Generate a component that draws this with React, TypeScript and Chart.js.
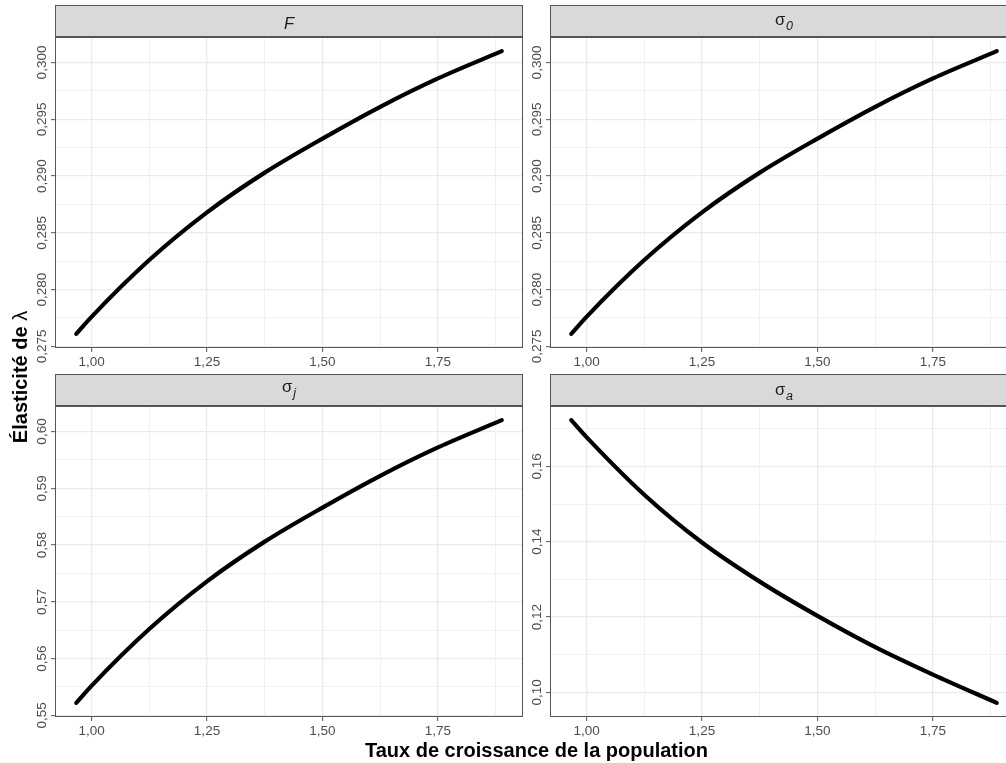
import React, { useEffect, useRef } from "react";
import { Chart, registerables } from "chart.js";

Chart.register(...registerables);

const FONT_FAMILY = "'Liberation Sans', Arial, Helvetica, sans-serif";
Chart.defaults.font.family = FONT_FAMILY;

// Population growth rate (λ) at which the elasticities were evaluated
const growthRates = [0.967, 1.0, 1.125, 1.25, 1.375, 1.5, 1.625, 1.75, 1.888];

// Elasticity of λ to each vital rate
const elasticityF = [0.2761, 0.2776, 0.2826, 0.2868, 0.2903, 0.2933, 0.2961, 0.2986, 0.301];
const elasticitySigma0 = [0.2761, 0.2776, 0.2826, 0.2868, 0.2903, 0.2933, 0.2961, 0.2986, 0.301];
const elasticitySigmaJ = [0.5522, 0.5552, 0.5652, 0.5736, 0.5806, 0.5866, 0.5922, 0.5972, 0.602];
const elasticitySigmaA = [0.1723, 0.1678, 0.1525, 0.1398, 0.1294, 0.1203, 0.112, 0.1047, 0.0972];

// Labelled tick values
const xTickValues = [1.0, 1.25, 1.5, 1.75];
const yTicksF = [0.275, 0.28, 0.285, 0.29, 0.295, 0.3];
const yTicksSigma0 = [0.275, 0.28, 0.285, 0.29, 0.295, 0.3];
const yTicksSigmaJ = [0.55, 0.56, 0.57, 0.58, 0.59, 0.6];
const yTicksSigmaA = [0.1, 0.12, 0.14, 0.16];

const STRIP_H = 32;
const PLOT_W = 468;
const PLOT_H = 311;
const Y_AXIS_W = 55;
const X_AXIS_H = 26;
const CANVAS_W = Y_AXIS_W + PLOT_W + 1;
const CANVAS_H = STRIP_H + PLOT_H + X_AXIS_H;

const GRID_COLOR = "#ebebeb";
const FRAME_COLOR = "#555555";
const TICK_TEXT = "#4d4d4d";

function expandedRange(values: number[]): [number, number] {
  const lo = Math.min(...values);
  const hi = Math.max(...values);
  const pad = (hi - lo) * 0.05;
  return [lo - pad, hi + pad];
}

// Major ticks plus the minor lines halfway between them
function gridValues(majors: number[], min: number, max: number): number[] {
  const half = (majors[1] - majors[0]) / 2;
  const kMin = Math.ceil((min - majors[0]) / half - 1e-9);
  const kMax = Math.floor((max - majors[0]) / half + 1e-9);
  const out: number[] = [];
  for (let k = kMin; k <= kMax; k++) {
    out.push(Math.round((majors[0] + k * half) * 1e7) / 1e7);
  }
  return out;
}

function isMajor(majors: number[], v: number) {
  return majors.some((m) => Math.abs(m - v) < 1e-9);
}

function formatComma(v: number, decimals: number) {
  return v.toFixed(decimals).replace(".", ",");
}

type StripLabel = { symbol: string; italic: boolean; sub?: string; baseline: number };

type PanelProps = {
  label: StripLabel;
  values: number[];
  yTicks: number[];
  yDecimals: number;
  left: number;
  top: number;
};

function Panel({ label, values, yTicks, yDecimals, left, top }: PanelProps) {
  const ref = useRef<HTMLCanvasElement>(null);

  useEffect(() => {
    const canvas = ref.current;
    if (!canvas) return;
    const [xMin, xMax] = expandedRange(growthRates);
    const [yMin, yMax] = expandedRange(values);
    const xGrid = gridValues(xTickValues, xMin, xMax);
    const yGrid = gridValues(yTicks, yMin, yMax);

    const decor = {
      id: "panelDecor",
      afterDatasetsDraw(chart: any) {
        const { ctx, chartArea: a } = chart;
        const yScale = chart.scales.y;
        const w = a.right - a.left;
        const h = a.bottom - a.top;
        ctx.save();

        // panel frame
        ctx.strokeStyle = FRAME_COLOR;
        ctx.lineWidth = 1;
        ctx.strokeRect(a.left + 0.5, a.top + 0.5, w - 1, h - 1);

        // strip
        ctx.fillStyle = "#d9d9d9";
        ctx.fillRect(a.left, 0, w, STRIP_H);
        ctx.strokeRect(a.left + 0.5, 0.5, w - 1, STRIP_H - 1);

        const mainFont = `${label.italic ? "italic " : ""}16.5px ${FONT_FAMILY}`;
        const subFont = `italic 12.5px ${FONT_FAMILY}`;
        ctx.font = mainFont;
        const mw = ctx.measureText(label.symbol).width;
        ctx.font = subFont;
        const sw = label.sub ? ctx.measureText(label.sub).width + 1 : 0;
        const x0 = (a.left + a.right) / 2 - (mw + sw) / 2;
        ctx.fillStyle = "#1a1a1a";
        ctx.textAlign = "left";
        ctx.textBaseline = "alphabetic";
        ctx.font = mainFont;
        ctx.fillText(label.symbol, x0, label.baseline);
        if (label.sub) {
          ctx.font = subFont;
          ctx.fillText(label.sub, x0 + mw + 1, label.baseline + 4.5);
        }

        // vertical y tick labels
        ctx.fillStyle = TICK_TEXT;
        ctx.font = `13.5px ${FONT_FAMILY}`;
        ctx.textAlign = "center";
        ctx.textBaseline = "alphabetic";
        for (const v of yTicks) {
          const y = yScale.getPixelForValue(v);
          ctx.save();
          ctx.translate(a.left - 9, y);
          ctx.rotate(-Math.PI / 2);
          ctx.fillText(formatComma(v, yDecimals), 0, 0);
          ctx.restore();
        }
        ctx.restore();
      },
    };

    const gridFor = (majors: number[]) => ({
      color: GRID_COLOR,
      lineWidth: (c: any) => (isMajor(majors, c.tick.value) ? 1.3 : 0.7),
      drawTicks: true,
      tickLength: 4,
      tickWidth: 1,
      tickColor: (c: any) => (isMajor(majors, c.tick.value) ? FRAME_COLOR : "rgba(0,0,0,0)"),
    });

    const chart = new Chart(canvas, {
      type: "line",
      data: {
        datasets: [
          {
            data: growthRates.map((x, i) => ({ x, y: values[i] })),
            borderColor: "#000000",
            borderWidth: 4.2,
            pointRadius: 0,
            cubicInterpolationMode: "monotone",
            borderCapStyle: "round",
            borderJoinStyle: "round",
            fill: false,
          },
        ],
      },
      options: {
        responsive: false,
        animation: false,
        events: [],
        layout: { padding: { top: STRIP_H, left: 0, right: 1, bottom: 0 } },
        plugins: {
          legend: { display: false },
          tooltip: { enabled: false },
          title: { display: false },
        },
        scales: {
          x: {
            type: "linear",
            min: xMin,
            max: xMax,
            afterBuildTicks: (s: any) => {
              s.ticks = xGrid.map((v) => ({ value: v }));
            },
            afterFit: (s: any) => {
              s.height = X_AXIS_H;
            },
            border: { display: false },
            grid: gridFor(xTickValues),
            ticks: {
              autoSkip: false,
              maxRotation: 0,
              minRotation: 0,
              padding: 2,
              color: TICK_TEXT,
              font: { size: 13.5, family: FONT_FAMILY },
              callback: (v: any) => (isMajor(xTickValues, Number(v)) ? formatComma(Number(v), 2) : ""),
            },
          },
          y: {
            type: "linear",
            min: yMin,
            max: yMax,
            afterBuildTicks: (s: any) => {
              s.ticks = yGrid.map((v) => ({ value: v }));
            },
            afterFit: (s: any) => {
              s.width = Y_AXIS_W;
            },
            border: { display: false },
            grid: gridFor(yTicks),
            ticks: { display: false },
          },
        },
      },
      plugins: [decor],
    } as any);

    return () => chart.destroy();
  }, [label, values, yTicks, yDecimals]);

  return (
    <canvas
      ref={ref}
      width={CANVAS_W}
      height={CANVAS_H}
      style={{ position: "absolute", left, top, width: CANVAS_W, height: CANVAS_H }}
    />
  );
}

const labelF: StripLabel = { symbol: "F", italic: true, baseline: 24 };
const labelSigma0: StripLabel = { symbol: "σ", italic: false, sub: "0", baseline: 20 };
const labelSigmaJ: StripLabel = { symbol: "σ", italic: false, sub: "j", baseline: 18 };
const labelSigmaA: StripLabel = { symbol: "σ", italic: false, sub: "a", baseline: 21 };

export default function App() {
  return (
    <div
      style={{
        position: "absolute",
        left: 0,
        top: 0,
        width: 1006,
        height: 763,
        overflow: "hidden",
        background: "#ffffff",
        fontFamily: FONT_FAMILY,
      }}
    >
      <Panel label={labelF} values={elasticityF} yTicks={yTicksF} yDecimals={3} left={0} top={5} />
      <Panel label={labelSigma0} values={elasticitySigma0} yTicks={yTicksSigma0} yDecimals={3} left={495} top={5} />
      <Panel label={labelSigmaJ} values={elasticitySigmaJ} yTicks={yTicksSigmaJ} yDecimals={2} left={0} top={374} />
      <Panel label={labelSigmaA} values={elasticitySigmaA} yTicks={yTicksSigmaA} yDecimals={2} left={495} top={374} />
      <div
        style={{
          position: "absolute",
          left: 55,
          width: 963,
          top: 740,
          textAlign: "center",
          fontFamily: FONT_FAMILY,
          fontWeight: "bold",
          fontSize: 20,
          lineHeight: "20px",
          color: "#000000",
          whiteSpace: "nowrap",
        }}
      >
        Taux de croissance de la population
      </div>
      <div
        style={{
          position: "absolute",
          left: 20 - 200,
          top: 377 - 12,
          width: 400,
          height: 24,
          lineHeight: "24px",
          textAlign: "center",
          transform: "rotate(-90deg)",
          fontFamily: FONT_FAMILY,
          fontWeight: "bold",
          fontSize: 20,
          color: "#000000",
          whiteSpace: "nowrap",
        }}
      >
        Élasticité de <span style={{ fontWeight: "normal" }}>λ</span>
      </div>
    </div>
  );
}
